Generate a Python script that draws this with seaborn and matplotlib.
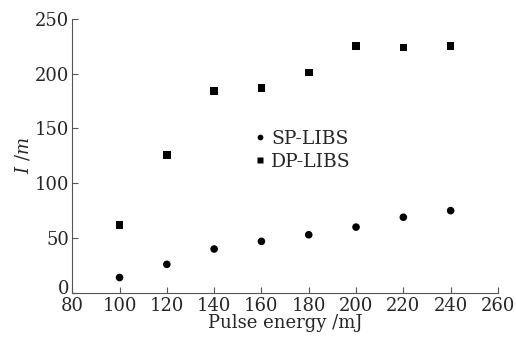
import numpy as np
import pandas as pd
import seaborn as sns
import matplotlib
matplotlib.use("Agg")
import matplotlib.pyplot as plt
from matplotlib.transforms import ScaledTranslation

energy = [100, 120, 140, 160, 180, 200, 220, 240]
sp_libs = [14, 26, 40, 47, 53, 60, 69, 75]
dp_libs = [62, 126, 184, 187, 201, 225, 224, 225]

df = pd.DataFrame({
    "energy": energy * 2,
    "I": sp_libs + dp_libs,
    "method": ["SP-LIBS"] * len(energy) + ["DP-LIBS"] * len(energy),
})

sns.set_style("ticks")
plt.rcParams["font.family"] = ["DejaVu Serif"]
plt.rcParams["mathtext.fontset"] = "dejavuserif"
plt.rcParams["xtick.direction"] = "in"
plt.rcParams["ytick.direction"] = "in"

fig = plt.figure(figsize=(5.16, 3.37), dpi=100)
ax = fig.add_axes([0.140, 0.131, 0.825, 0.813])

sns.scatterplot(data=df, x="energy", y="I", hue="method", style="method",
                markers={"SP-LIBS": "o", "DP-LIBS": "s"},
                palette={"SP-LIBS": "black", "DP-LIBS": "black"},
                s=30, edgecolor="none", ax=ax)

ax.set_xlim(80, 260)
ax.set_ylim(0, 250)
ax.set_xticks(range(80, 261, 20))
ax.set_yticks(range(0, 251, 50))
ax.tick_params(labelsize=13, length=4, width=0.8, color="#555555")
ax.tick_params(axis="x", pad=3)
ax.tick_params(axis="y", pad=2)
for side in ["top", "right"]:
    ax.spines[side].set_visible(False)
for side in ["left", "bottom"]:
    ax.spines[side].set_color("#555555")
    ax.spines[side].set_linewidth(0.8)

# the "0" sits a little above the corner, clear of "80"
fig.canvas.draw()
lab0 = ax.get_yticklabels()[0]
lab0.set_transform(lab0.get_transform() + ScaledTranslation(0, 4 / 72, fig.dpi_scale_trans))

ax.set_xlabel("Pulse energy /mJ", fontsize=13, labelpad=-1)
ax.set_ylabel(r"$I$ /$m$", fontsize=13, labelpad=2)

ax.legend(loc="center left", bbox_to_anchor=(0.375, 0.52), frameon=False,
          fontsize=13.5, markerscale=0.75, handletextpad=0.0,
          handlelength=1.2, labelspacing=0.25, title=None)

fig.savefig("out.png", dpi=100)
